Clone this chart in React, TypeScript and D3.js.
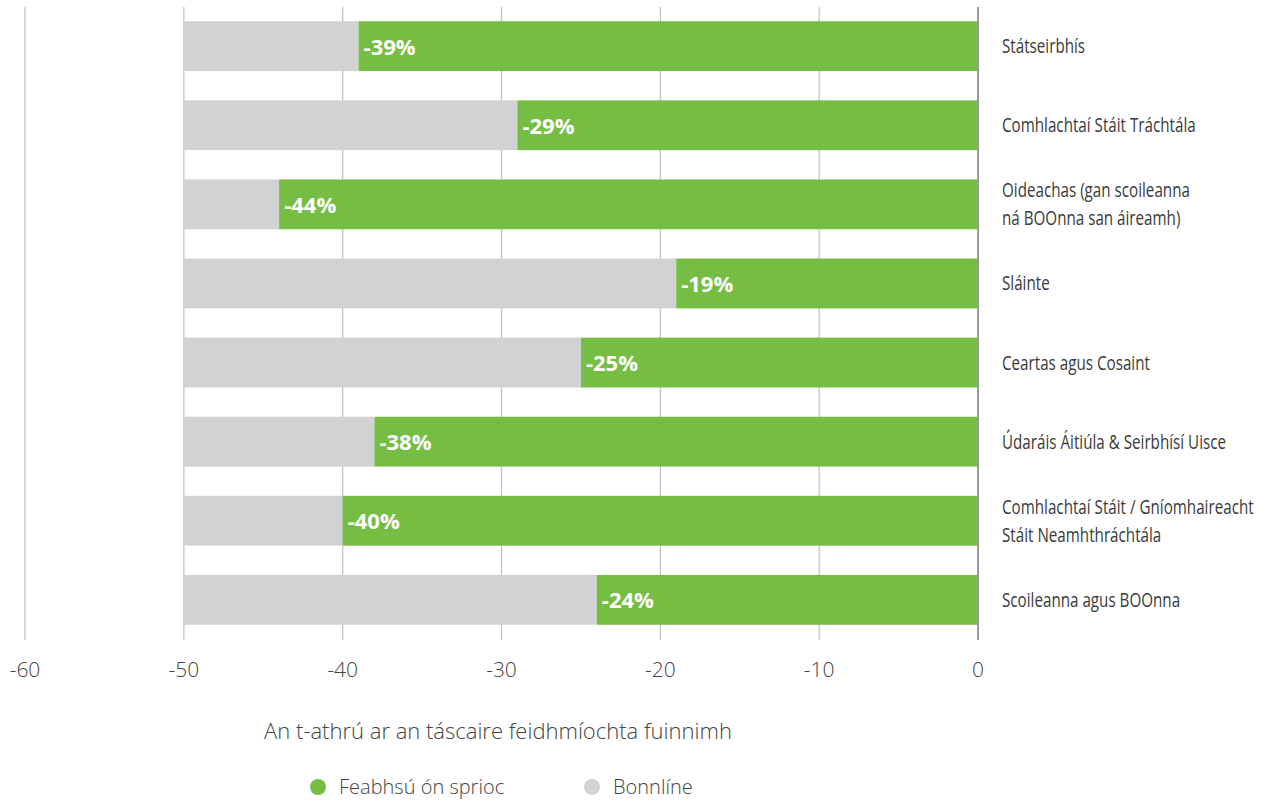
import React from "react";
import * as d3 from "d3";

const categories: string[][] = [
  ["Státseirbhís"],
  ["Comhlachtaí Stáit Tráchtála"],
  ["Oideachas (gan scoileanna", "ná BOOnna san áireamh)"],
  ["Sláinte"],
  ["Ceartas agus Cosaint"],
  ["Údaráis Áitiúla & Seirbhísí Uisce"],
  ["Comhlachtaí Stáit / Gníomhaireacht", "Stáit Neamhthráchtála"],
  ["Scoileanna agus BOOnna"],
];
const improvement: number[] = [-39, -29, -44, -19, -25, -38, -40, -24];
const baseline = -50;
const ticks: number[] = [-60, -50, -40, -30, -20, -10, 0];
const axisTitle = "An t-athrú ar an táscaire feidhmíochta fuinnimh";
const legendItems = ["Feabhsú ón sprioc", "Bonnlíne"];

const GREEN = "#76bd43";
const GRAY = "#d1d2d4";

export default function App() {
  const W = 1268, H = 803;
  const x = d3.scaleLinear().domain([-60, 0]).range([25, 978]);
  const y = d3
    .scaleBand<number>()
    .domain(d3.range(categories.length))
    .range([7, 639])
    .paddingInner(0.37)
    .paddingOuter(0.18);
  const bw = y.bandwidth();
  const thinFont = "'Open Sans', 'Noto Sans', sans-serif";
  const labelX = 1002;
  const sx = 0.76;
  return (
    <svg width={W} height={H} style={{ position: "absolute", left: 0, top: 0 }}>
      {ticks.map((t) => (
        <line key={"g" + t} x1={x(t)} x2={x(t)} y1={7} y2={640}
          stroke={t === 0 ? "#9a9a9a" : "#c4c4c4"} strokeWidth={t === 0 ? 2 : 1.3} />
      ))}
      {improvement.map((v, i) => (
        <g key={"b" + i}>
          <rect x={x(baseline)} y={y(i)!} width={x(v) - x(baseline)} height={bw} fill={GRAY} />
          <rect x={x(v)} y={y(i)!} width={x(0) - x(v)} height={bw} fill={GREEN} />
          <text x={x(v) + 5} y={y(i)! + bw / 2} dy="0.38em" fill="#fff" fontWeight="bold"
            fontFamily="'Open Sans', sans-serif" fontSize={22}>{v}%</text>
          <g transform={`translate(${labelX},0) scale(${sx},1)`}>
            {categories[i].map((line, k) => (
              <text key={k} x={0} y={y(i)! + bw / 2 + (k - (categories[i].length - 1) / 2) * 28}
                dy="0.35em" fill="#3a3a3a" fontFamily={thinFont} fontSize={20}>{line}</text>
            ))}
          </g>
        </g>
      ))}
      {ticks.map((t) => (
        <text key={"t" + t} x={x(t)} y={670} dy="0.35em" textAnchor="middle" fill="#444"
          fontFamily={thinFont} fontWeight={300} fontSize={21}>{t}</text>
      ))}
      <text x={498} y={731} dy="0.35em" textAnchor="middle" fill="#444"
        fontFamily={thinFont} fontWeight={300} fontSize={22}>{axisTitle}</text>
      <circle cx={318} cy={787} r={8} fill={GREEN} />
      <text x={339} y={787} dy="0.35em" fill="#444" fontFamily={thinFont} fontWeight={300} fontSize={20}>{legendItems[0]}</text>
      <circle cx={592} cy={787} r={8} fill={GRAY} />
      <text x={613} y={787} dy="0.35em" fill="#444" fontFamily={thinFont} fontWeight={300} fontSize={20}>{legendItems[1]}</text>
    </svg>
  );
}
